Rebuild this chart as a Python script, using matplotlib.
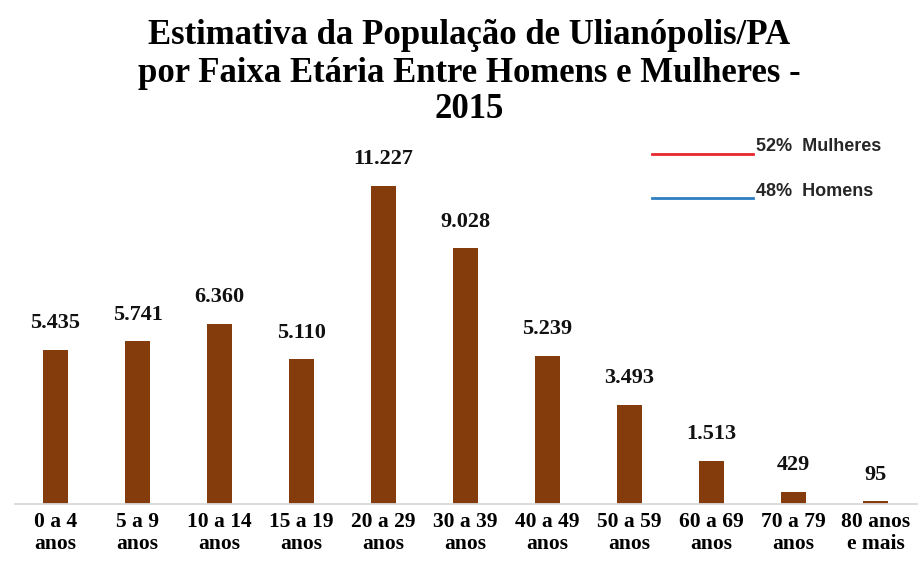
import matplotlib.pyplot as plt
from matplotlib.lines import Line2D

faixas = ['0 a 4\nanos', '5 a 9\nanos', '10 a 14\nanos', '15 a 19\nanos', '20 a 29\nanos',
          '30 a 39\nanos', '40 a 49\nanos', '50 a 59\nanos', '60 a 69\nanos', '70 a 79\nanos',
          '80 anos\ne mais']
populacao = [5435, 5741, 6360, 5110, 11227, 9028, 5239, 3493, 1513, 429, 95]
rotulos = ['5.435', '5.741', '6.360', '5.110', '11.227', '9.028', '5.239', '3.493', '1.513', '429', '95']
legenda = ['52%  Mulheres', '48%  Homens']
cores_legenda = ['#e8262e', '#2e7ec2']

W, H = 918, 571
fig = plt.figure(figsize=(W / 100, H / 100), dpi=100)
# axes: left 14.5px, right 916.5px, baseline y=504, top y=150
ax = fig.add_axes([14.5 / W, (H - 504) / H, 902 / W, 354 / H])

x = range(len(faixas))
ax.bar(x, populacao, width=0.31, color='#843c0c')
ax.set_xlim(-0.5, len(faixas) - 0.5)
ax.set_ylim(0, 12500)

for xi, v, r in zip(x, populacao, rotulos):
    ax.annotate(r, (xi, v), xytext=(0, 12), textcoords='offset points',
                ha='center', va='bottom', fontsize=16, fontweight='bold',
                family='Liberation Serif', color='#111111')

ax.set_xticks(list(x))
ax.set_xticklabels(faixas, fontsize=15.5, fontweight='bold', family='Liberation Serif',
                   linespacing=1.12)
ax.tick_params(axis='x', length=0, pad=6)
ax.set_yticks([])
for s in ['top', 'right', 'left']:
    ax.spines[s].set_visible(False)
ax.spines['bottom'].set_color('#d9d9d9')
ax.spines['bottom'].set_linewidth(1.3)

titulo = ['Estimativa da População de Ulianópolis/PA',
          'por Faixa Etária Entre Homens e Mulheres -',
          '2015']
for txt, yp in zip(titulo, [36, 74, 110]):
    fig.text(0.5 + 10 / W, 1 - yp / H, txt, ha='center', va='center', fontsize=25,
             fontweight='bold', family='Liberation Serif')

# legend drawn as lines with text
for i, (txt, c) in enumerate(zip(legenda, cores_legenda)):
    y_line = 1 - (154 + 44 * i) / H
    y_txt = 1 - (147 + 45 * i) / H
    fig.add_artist(Line2D([652 / W, 753 / W], [y_line, y_line], color=c, lw=2))
    fig.text(756 / W, y_txt, txt, ha='left', va='center', fontsize=13,
             fontweight='bold', family='Liberation Sans', color='#262626')

fig.savefig('out.png', dpi=100)
